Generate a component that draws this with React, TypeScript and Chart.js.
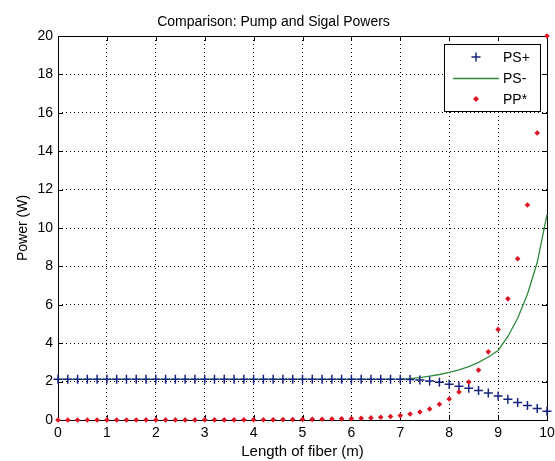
import React, { useEffect, useRef } from "react";
import { Chart, registerables } from "chart.js";

Chart.register(...registerables);

const lengths = [
  0, 0.2, 0.4, 0.6, 0.8, 1.0, 1.2, 1.4, 1.6, 1.8,
  2.0, 2.2, 2.4, 2.6, 2.8, 3.0, 3.2, 3.4, 3.6, 3.8,
  4.0, 4.2, 4.4, 4.6, 4.8, 5.0, 5.2, 5.4, 5.6, 5.8,
  6.0, 6.2, 6.4, 6.6, 6.8, 7.0, 7.2, 7.4, 7.6, 7.8,
  8.0, 8.2, 8.4, 8.6, 8.8, 9.0, 9.2, 9.4, 9.6, 9.8, 10.0,
];

const psPlus = [
  2.12, 2.12, 2.12, 2.12, 2.12, 2.12, 2.12, 2.12, 2.12, 2.12,
  2.12, 2.12, 2.12, 2.12, 2.12, 2.12, 2.12, 2.12, 2.12, 2.12,
  2.12, 2.12, 2.12, 2.12, 2.12, 2.12, 2.12, 2.12, 2.12, 2.12,
  2.12, 2.12, 2.12, 2.12, 2.12, 2.12, 2.11, 2.08, 2.03, 1.96,
  1.86, 1.76, 1.65, 1.53, 1.40, 1.25, 1.08, 0.91, 0.75, 0.60, 0.45,
];

const psMinus = [
  2.12, 2.12, 2.12, 2.12, 2.12, 2.12, 2.12, 2.12, 2.12, 2.12,
  2.12, 2.12, 2.12, 2.12, 2.12, 2.12, 2.12, 2.12, 2.12, 2.12,
  2.12, 2.12, 2.12, 2.12, 2.12, 2.12, 2.12, 2.12, 2.12, 2.12,
  2.12, 2.12, 2.12, 2.12, 2.12, 2.13, 2.16, 2.21, 2.28, 2.37,
  2.48, 2.61, 2.78, 3.0, 3.28, 3.62, 4.35, 5.3, 6.55, 8.2, 10.7,
];

const ppStar = [
  0.0, 0.001, 0.001, 0.002, 0.002, 0.002, 0.003, 0.003, 0.003, 0.004,
  0.004, 0.005, 0.005, 0.006, 0.006, 0.007, 0.008, 0.008, 0.009, 0.01,
  0.011, 0.012, 0.015, 0.02, 0.025, 0.03, 0.035, 0.04, 0.05, 0.06,
  0.07, 0.09, 0.11, 0.14, 0.18, 0.23, 0.31, 0.42, 0.57, 0.82,
  1.09, 1.46, 1.98, 2.6, 3.55, 4.72, 6.31, 8.4, 11.2, 14.95, 20.0,
];

const xTicks = [0, 1, 2, 3, 4, 5, 6, 7, 8, 9, 10];
const yTicks = [0, 2, 4, 6, 8, 10, 12, 14, 16, 18, 20];

const seriesNames = ["PS+", "PS-", "PP*"];
const titleText = "Comparison: Pump and Sigal Powers";
const xTitle = "Length of fiber (m)";
const yTitle = "Power (W)";

const BLUE = "#18237e";
const GREEN = "#2f8a3e";
const RED = "#dc1424";
const FONT = "'Liberation Sans', Arial, sans-serif";

const toPoints = (ys: number[]) => lengths.map((x, i) => ({ x, y: ys[i] }));

const boxTicksPlugin = {
  id: "boxTicks",
  beforeDatasetsDraw(chart: any) {
    const { ctx, chartArea: a, scales } = chart;
    const xs = scales.x;
    const ys = scales.y;
    ctx.save();
    ctx.strokeStyle = "#000";
    ctx.lineWidth = 1;
    ctx.setLineDash([]);
    const L = 5;
    ctx.beginPath();
    xTicks.forEach((t) => {
      const px = Math.round(xs.getPixelForValue(t)) + 0.5;
      ctx.moveTo(px, a.bottom);
      ctx.lineTo(px, a.bottom - L);
      ctx.moveTo(px, a.top);
      ctx.lineTo(px, a.top + L);
    });
    yTicks.forEach((t) => {
      const py = Math.round(ys.getPixelForValue(t)) + 0.5;
      ctx.moveTo(a.left, py);
      ctx.lineTo(a.left + L, py);
      ctx.moveTo(a.right, py);
      ctx.lineTo(a.right - L, py);
    });
    ctx.stroke();
    ctx.strokeRect(
      Math.round(a.left) + 0.5,
      Math.round(a.top) + 0.5,
      Math.round(a.right - a.left),
      Math.round(a.bottom - a.top)
    );
    ctx.restore();
  },
};

const boxLegendPlugin = {
  id: "boxLegend",
  afterDatasetsDraw(chart: any) {
    const { ctx } = chart;
    const left = 444;
    const top = 44;
    const w = 96;
    const h = 67;
    ctx.save();
    ctx.fillStyle = "#fff";
    ctx.fillRect(left, top, w, h);
    ctx.strokeStyle = "#000";
    ctx.lineWidth = 1;
    ctx.strokeRect(left + 0.5, top + 0.5, w, h);
    const rows = [57, 78, 99];
    const cx = 476;
    ctx.strokeStyle = BLUE;
    ctx.lineWidth = 1.5;
    ctx.beginPath();
    ctx.moveTo(cx - 4.5, rows[0]);
    ctx.lineTo(cx + 4.5, rows[0]);
    ctx.moveTo(cx, rows[0] - 4.5);
    ctx.lineTo(cx, rows[0] + 4.5);
    ctx.stroke();
    ctx.strokeStyle = GREEN;
    ctx.lineWidth = 1.3;
    ctx.beginPath();
    ctx.moveTo(453, rows[1] + 0.5);
    ctx.lineTo(499, rows[1] + 0.5);
    ctx.stroke();
    ctx.fillStyle = RED;
    ctx.beginPath();
    ctx.moveTo(cx, rows[2] - 3);
    ctx.lineTo(cx + 3, rows[2]);
    ctx.lineTo(cx, rows[2] + 3);
    ctx.lineTo(cx - 3, rows[2]);
    ctx.closePath();
    ctx.fill();
    ctx.fillStyle = "#000";
    ctx.font = `14px ${FONT}`;
    ctx.textBaseline = "middle";
    ctx.textAlign = "left";
    seriesNames.forEach((n, i) => ctx.fillText(n, 503, rows[i] + 1));
    ctx.restore();
  },
};

export default function App() {
  const ref = useRef<HTMLCanvasElement | null>(null);
  useEffect(() => {
    if (!ref.current) return;
    const chart = new Chart(ref.current, {
      type: "line",
      data: {
        datasets: [
          {
            label: seriesNames[0],
            data: toPoints(psPlus),
            showLine: false,
            pointStyle: "cross",
            pointRadius: 4.5,
            pointBorderWidth: 1.5,
            borderColor: BLUE,
            backgroundColor: BLUE,
            clip: false,
            order: 1,
          },
          {
            label: seriesNames[1],
            data: toPoints(psMinus),
            showLine: true,
            pointRadius: 0,
            borderWidth: 1.3,
            borderColor: GREEN,
            backgroundColor: GREEN,
            tension: 0,
            clip: false,
            order: 2,
          },
          {
            label: seriesNames[2],
            data: toPoints(ppStar),
            showLine: false,
            pointStyle: "rectRot",
            pointRadius: 2.8,
            pointBorderWidth: 0,
            borderColor: RED,
            backgroundColor: RED,
            clip: false,
            order: 0,
          },
        ],
      },
      options: {
        responsive: false,
        animation: false,
        layout: { padding: { left: 0, right: 8, top: 0, bottom: 0 } },
        plugins: {
          legend: { display: false },
          tooltip: { enabled: false },
          title: {
            display: true,
            text: titleText,
            color: "#000",
            font: { family: FONT, size: 14, weight: "normal" },
            padding: { top: 14, bottom: 5.2 },
          },
        },
        scales: {
          x: {
            type: "linear",
            min: 0,
            max: 10,
            afterFit: (s: any) => {
              s.height = 41;
              s.paddingLeft = 0;
              s.paddingRight = 0;
            },
            afterBuildTicks: (s: any) => {
              s.ticks = xTicks.map((v) => ({ value: v }));
            },
            ticks: {
              color: "#000",
              font: { family: FONT, size: 14 },
              padding: 5,
              maxRotation: 0,
              autoSkip: false,
            },
            grid: {
              drawTicks: false,
              color: "#000",
              lineWidth: 1,
            },
            border: { display: false, dash: [1, 3] },
            title: {
              display: true,
              text: xTitle,
              color: "#000",
              font: { family: FONT, size: 15 },
              padding: { top: 0, bottom: 0 },
            },
          },
          y: {
            type: "linear",
            min: 0,
            max: 20,
            afterFit: (s: any) => {
              s.width = 58;
            },
            afterBuildTicks: (s: any) => {
              s.ticks = yTicks.map((v) => ({ value: v }));
            },
            ticks: {
              color: "#000",
              font: { family: FONT, size: 14 },
              padding: 5,
              autoSkip: false,
            },
            grid: {
              drawTicks: false,
              color: "#000",
              lineWidth: 1,
            },
            border: { display: false, dash: [1, 3] },
            title: {
              display: true,
              text: yTitle,
              color: "#000",
              font: { family: FONT, size: 14 },
              padding: { top: 15, bottom: 0 },
            },
          },
        },
      },
      plugins: [boxTicksPlugin, boxLegendPlugin],
    } as any);
    return () => chart.destroy();
  }, []);
  return (
    <div style={{ position: "absolute", left: 0, top: 0, width: 555, height: 461, background: "#fff" }}>
      <canvas ref={ref} width={555} height={461} style={{ display: "block" }} />
    </div>
  );
}
